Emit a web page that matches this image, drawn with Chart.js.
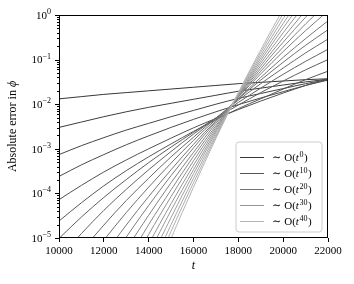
<!DOCTYPE html>
<html>
<head>
<meta charset="utf-8">
<script src="https://cdn.jsdelivr.net/npm/chart.js@4"></script>
<style>
  html, body { margin: 0; padding: 0; background: #fff; }
  #wrap { width: 354px; height: 284px; }
</style>
</head>
<body>
<div id="wrap"><canvas id="grafico" width="354" height="284"></canvas></div>
<script>
// --- Datos: tiempo y log10 del error para cada orden k ---
const tiempos = [10000, 11000, 12000, 13000, 14000, 15000, 16000, 17000, 18000, 19000, 20000, 21000, 22000];

const k0  = [-1.88, -1.83, -1.78, -1.74, -1.70, -1.66, -1.62, -1.58, -1.54, -1.51, -1.48, -1.45, -1.43];
const k2  = [-2.52, -2.40, -2.28, -2.17, -2.07, -1.98, -1.89, -1.80, -1.71, -1.64, -1.57, -1.50, -1.44];
const k4  = [-3.13, -2.93, -2.75, -2.58, -2.43, -2.28, -2.14, -2.00, -1.87, -1.76, -1.65, -1.54, -1.45];
const k6  = [-3.62, -3.36, -3.13, -2.91, -2.71, -2.52, -2.34, -2.17, -2.01, -1.86, -1.72, -1.58, -1.46];
const k8  = [-4.14, -3.82, -3.52, -3.25, -3.00, -2.76, -2.53, -2.32, -2.12, -1.93, -1.75, -1.58, -1.43];
const k10 = [-4.62, -4.21, -3.83, -3.49, -3.18, -2.89, -2.61, -2.35, -2.10, -1.88, -1.66, -1.45, -1.26];
const k12 = [-5.01, -4.53, -4.09, -3.69, -3.31, -2.96, -2.63, -2.31, -2.02, -1.74, -1.48, -1.23, -1.00];
const k14 = [-5.46, -4.90, -4.38, -3.91, -3.47, -3.06, -2.67, -2.31, -1.96, -1.64, -1.33, -1.04, -0.77];
const k16 = [-5.95, -5.30, -4.71, -4.16, -3.66, -3.18, -2.74, -2.31, -1.91, -1.54, -1.19, -0.85, -0.54];
const k18 = [-6.46, -5.72, -5.05, -4.43, -3.86, -3.32, -2.81, -2.34, -1.88, -1.46, -1.06, -0.68, -0.33];
const k20 = [-6.98, -6.16, -5.40, -4.71, -4.07, -3.47, -2.90, -2.37, -1.87, -1.40, -0.95, -0.53, -0.13];
const k22 = [-7.49, -6.57, -5.74, -4.98, -4.27, -3.60, -2.98, -2.39, -1.84, -1.32, -0.82, -0.35, 0.09];
const k24 = [-8.01, -7.01, -6.10, -5.26, -4.49, -3.76, -3.08, -2.43, -1.83, -1.26, -0.72, -0.20, 0.28];
const k26 = [-8.54, -7.45, -6.46, -5.55, -4.70, -3.92, -3.17, -2.48, -1.82, -1.20, -0.61, -0.05, 0.47];
const k28 = [-9.06, -7.89, -6.82, -5.84, -4.92, -4.07, -3.27, -2.52, -1.81, -1.14, -0.51, 0.10, 0.67];
const k30 = [-9.59, -8.33, -7.18, -6.12, -5.14, -4.23, -3.37, -2.56, -1.80, -1.08, -0.40, 0.25, 0.86];
const k32 = [-10.12, -8.77, -7.54, -6.41, -5.36, -4.38, -3.47, -2.60, -1.79, -1.02, -0.29, 0.40, 1.05];
const k34 = [-10.64, -9.21, -7.90, -6.70, -5.58, -4.54, -3.56, -2.64, -1.78, -0.96, -0.19, 0.55, 1.25];
const k36 = [-11.17, -9.65, -8.26, -6.98, -5.80, -4.70, -3.66, -2.69, -1.77, -0.90, -0.08, 0.70, 1.44];
const k38 = [-11.69, -10.09, -8.62, -7.27, -6.02, -4.85, -3.76, -2.73, -1.75, -0.84, 0.03, 0.85, 1.63];
const k40 = [-12.22, -10.53, -8.98, -7.56, -6.24, -5.01, -3.86, -2.77, -1.74, -0.78, 0.13, 1.00, 1.83];

const series = [k0, k2, k4, k6, k8, k10, k12, k14, k16, k18, k20, k22, k24, k26, k28, k30, k32, k34, k36, k38, k40];
const ordenes = [0, 2, 4, 6, 8, 10, 12, 14, 16, 18, 20, 22, 24, 26, 28, 30, 32, 34, 36, 38, 40];
const ordenesLeyenda = [0, 10, 20, 30, 40];
const ticksX = [10000, 12000, 14000, 16000, 18000, 20000, 22000];
const potenciasY = [-5, -4, -3, -2, -1, 0];

const SERIF = '"Liberation Serif", "DejaVu Serif", serif';

// gris oscuro -> gris claro según el orden
function gris(k) {
  const g = Math.round(55 + 125 * k / 40);
  return `rgb(${g},${g},${g})`;
}

// --- Marco, ticks del eje y, títulos y leyenda ---
const marco = {
  id: 'marco',
  afterDraw(chart) {
    const { ctx, chartArea: a, scales: { y } } = chart;
    ctx.save();

    // bordes
    ctx.strokeStyle = '#000';
    ctx.lineWidth = 1;
    ctx.strokeRect(a.left + 0.5, a.top + 0.5, a.right - a.left - 1, a.bottom - a.top - 1);

    // ticks del eje y (mayores y menores)
    ctx.beginPath();
    potenciasY.forEach(p => {
      for (let m = 1; m <= 9; m++) {
        const v = m * Math.pow(10, p);
        if (v > 1.0000001) break;
        const py = Math.round(y.getPixelForValue(v)) + 0.5;
        const len = m === 1 ? 4 : 2;
        ctx.moveTo(a.left - len, py);
        ctx.lineTo(a.left, py);
      }
    });
    ctx.stroke();

    // etiquetas 10^n
    ctx.fillStyle = '#000';
    ctx.textBaseline = 'middle';
    ctx.textAlign = 'left';
    potenciasY.forEach(p => {
      const py = y.getPixelForValue(Math.pow(10, p));
      const exp = p === 0 ? '0' : '\u2212' + (-p);
      ctx.font = '8px ' + SERIF;
      const ew = ctx.measureText(exp).width;
      ctx.font = '11px ' + SERIF;
      const bw = ctx.measureText('10').width;
      const right = 51;
      ctx.fillText('10', right - ew - bw, py + 1);
      ctx.font = '8px ' + SERIF;
      ctx.fillText(exp, right - ew, py - 3);
    });

    // título eje x
    ctx.font = 'italic 12px ' + SERIF;
    ctx.textAlign = 'center';
    ctx.fillText('t', (a.left + a.right) / 2, 266);

    // título eje y
    ctx.save();
    ctx.translate(13, (a.top + a.bottom) / 2);
    ctx.rotate(-Math.PI / 2);
    ctx.font = '12px ' + SERIF;
    const t1 = 'Absolute error in ';
    const w1 = ctx.measureText(t1).width;
    ctx.font = 'italic 12px ' + SERIF;
    const w2 = ctx.measureText('\u03d5').width;
    const x0 = -(w1 + w2) / 2;
    ctx.textAlign = 'left';
    ctx.font = '12px ' + SERIF;
    ctx.fillText(t1, x0, 0);
    ctx.font = 'italic 12px ' + SERIF;
    ctx.fillText('\u03d5', x0 + w1, 0);
    ctx.restore();

    // leyenda
    const bx = 236, by = 142, bw = 86, bh = 90, r = 3;
    ctx.beginPath();
    ctx.moveTo(bx + r, by);
    ctx.arcTo(bx + bw, by, bx + bw, by + bh, r);
    ctx.arcTo(bx + bw, by + bh, bx, by + bh, r);
    ctx.arcTo(bx, by + bh, bx, by, r);
    ctx.arcTo(bx, by, bx + bw, by, r);
    ctx.closePath();
    ctx.fillStyle = 'rgba(255,255,255,0.8)';
    ctx.fill();
    ctx.strokeStyle = '#cccccc';
    ctx.stroke();

    ordenesLeyenda.forEach((k, i) => {
      const ly = 157.5 + i * 16;
      ctx.strokeStyle = gris(k);
      ctx.lineWidth = 1;
      ctx.beginPath();
      ctx.moveTo(240, ly);
      ctx.lineTo(264, ly);
      ctx.stroke();

      ctx.fillStyle = '#000';
      ctx.textAlign = 'left';
      ctx.textBaseline = 'middle';
      let x = 272;
      ctx.font = '11px ' + SERIF;
      ctx.fillText('\u223c', x, ly + 1);
      x += ctx.measureText('\u223c').width + 3;
      ctx.fillText('O(', x, ly + 1);
      x += ctx.measureText('O(').width;
      ctx.font = 'italic 11px ' + SERIF;
      ctx.fillText('t', x, ly + 1);
      x += ctx.measureText('t').width + 0.5;
      ctx.font = '8px ' + SERIF;
      ctx.fillText(String(k), x, ly - 3);
      x += ctx.measureText(String(k)).width + 0.5;
      ctx.font = '11px ' + SERIF;
      ctx.fillText(')', x, ly + 1);
    });

    ctx.restore();
  }
};

const datasets = series.map((s, i) => ({
  label: 'k=' + ordenes[i],
  data: s.map((lv, j) => ({ x: tiempos[j], y: Math.pow(10, lv) })),
  borderColor: gris(ordenes[i]),
  borderWidth: 1,
  pointRadius: 0,
  fill: false,
  cubicInterpolationMode: 'monotone',
  order: -i
}));

new Chart(document.getElementById('grafico'), {
  type: 'line',
  data: { datasets },
  options: {
    responsive: false,
    animation: false,
    devicePixelRatio: 1,
    layout: { padding: { top: 15, right: 26, left: 0, bottom: 0 } },
    plugins: { legend: { display: false }, tooltip: { enabled: false } },
    scales: {
      x: {
        type: 'linear',
        min: 10000,
        max: 22000,
        afterFit: s => { s.height = 46; },
        afterBuildTicks: s => { s.ticks = ticksX.map(v => ({ value: v })); },
        ticks: {
          callback: v => String(v),
          color: '#000',
          font: { family: SERIF, size: 11 },
          padding: 3,
          maxRotation: 0,
          autoSkip: false
        },
        grid: { display: true, drawOnChartArea: false, tickLength: 4, color: '#000' },
        border: { display: false }
      },
      y: {
        type: 'logarithmic',
        min: 1e-5,
        max: 1,
        afterFit: s => { s.width = 59; },
        ticks: { display: false },
        grid: { display: false },
        border: { display: false }
      }
    }
  },
  plugins: [marco]
});
</script>
</body>
</html>
